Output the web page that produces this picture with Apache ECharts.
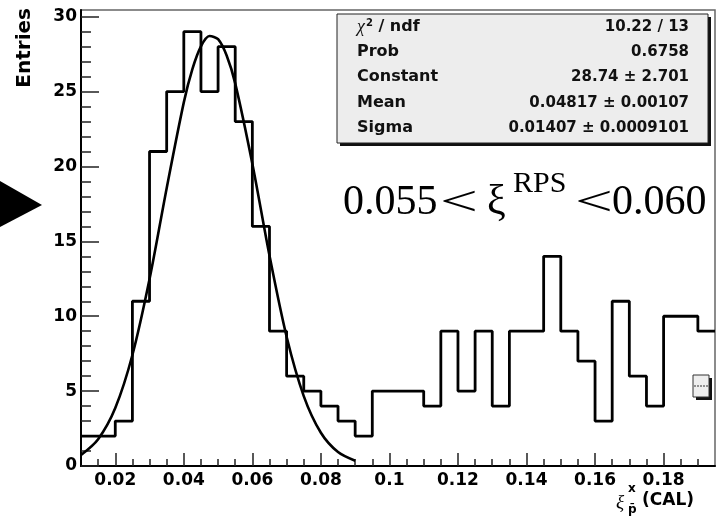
<!DOCTYPE html>
<html>
<head>
<meta charset="utf-8">
<script src="https://cdn.jsdelivr.net/npm/echarts@6/dist/echarts.min.js"></script>
<style>
  html, body { margin: 0; padding: 0; background: #fff; }
  #chart { width: 716px; height: 520px; }
</style>
</head>
<body>
<div id="chart"></div>
<script>
// histogram: 37 bins of width 0.005 starting at 0.01
const binStart = 0.01;
const binWidth = 0.005;
const entries = [2, 2, 3, 11, 21, 25, 29, 25, 28, 23, 16, 9, 6, 5, 4, 3, 2, 5, 5, 5, 4, 9, 5, 9, 4, 9, 9, 14, 9, 7, 3, 11, 6, 4, 10, 10, 9];

// gaussian fit curve
const fitX = [0.010, 0.015, 0.020, 0.025, 0.030, 0.035, 0.040, 0.0425, 0.045, 0.0475, 0.050, 0.0525, 0.055, 0.060, 0.065, 0.070, 0.075, 0.080, 0.085, 0.090];
const fitY = [0.73, 1.79, 3.87, 7.41, 12.48, 18.55, 24.28, 26.50, 28.02, 28.71, 28.50, 27.41, 25.55, 20.18, 14.05, 8.63, 4.67, 2.22, 0.93, 0.35];

const xMajorTicks = [0.02, 0.04, 0.06, 0.08, 0.1, 0.12, 0.14, 0.16, 0.18];
const xMinorTicks = [0.015, 0.025, 0.03, 0.035, 0.045, 0.05, 0.055, 0.065, 0.07, 0.075, 0.085, 0.09, 0.095,
  0.105, 0.11, 0.115, 0.125, 0.13, 0.135, 0.145, 0.15, 0.155, 0.165, 0.17, 0.175, 0.185, 0.19];
const yMajorTicks = [0, 5, 10, 15, 20, 25, 30];
const yMinorTicks = [1, 2, 3, 4, 6, 7, 8, 9, 11, 12, 13, 14, 16, 17, 18, 19, 21, 22, 23, 24, 26, 27, 28, 29];

const statLabels = ["{chi|χ}{sup|2}{t| / ndf}", "Prob", "Constant", "Mean", "Sigma"];
const statValues = ["10.22 / 13", "0.6758", "28.74 ± 2.701", "0.04817 ± 0.00107", "0.01407 ± 0.0009101"];

const X_MIN = 0.01, X_MAX = 0.195, Y_MAX = 30.45;

const histData = entries.map((v, i) => [Number((binStart + i * binWidth).toFixed(3)), v]);
histData.push([Number((binStart + entries.length * binWidth).toFixed(3)), entries[entries.length - 1]]);
const fitData = fitX.map((x, i) => [x, fitY[i]]);

const sans = "DejaVu Sans";
const serif = "Liberation Serif";

const graphics = [];
// arrow on the left
graphics.push({ type: "polygon", shape: { points: [[0, 181], [0, 227], [42, 205]] }, style: { fill: "#000" } });
// "Entries"
graphics.push({
  type: "text", x: 25, y: 8, rotation: Math.PI / 2,
  style: { text: "Entries", font: "bold 20px " + sans, fill: "#000", align: "right", verticalAlign: "middle" }
});
// stats box
graphics.push({ type: "rect", shape: { x: 340, y: 17, width: 371, height: 129 }, style: { fill: "#111" } });
graphics.push({ type: "rect", shape: { x: 337, y: 14, width: 371, height: 129 }, style: { fill: "#ededed", stroke: "#222", lineWidth: 1 } });
const rowY = [27, 52, 77, 103, 128];
statLabels.forEach((t, i) => {
  graphics.push({
    type: "text", x: 357, y: rowY[i],
    style: {
      text: t, font: "bold 16px " + sans, fill: "#111", align: "left", verticalAlign: "middle",
      rich: {
        chi: { font: "italic 18px " + serif, fill: "#111" },
        sup: { font: "bold 10px " + sans, fill: "#111", verticalAlign: "top", padding: [0, 0, 8, 1] },
        t: { font: "bold 16px " + sans, fill: "#111" }
      }
    }
  });
  graphics.push({
    type: "text", x: 689, y: rowY[i],
    style: { text: statValues[i], font: "bold 15px " + sans, fill: "#111", align: "right", verticalAlign: "middle" }
  });
});
// big annotation
const big = "42px " + serif;
[["0.055", 343, 203, big, 1], ["<", 440, 204, big, 1.6], ["ξ", 487, 203, big, 1], ["RPS", 513, 184, "30px " + serif, 1],
 ["<", 575, 204, big, 1.6], ["0.060", 612, 203, big, 1]].forEach(p => {
  graphics.push({
    type: "text", x: p[1], y: p[2], scaleX: p[4],
    style: { text: p[0], font: p[3], fill: "#000", align: "left", verticalAlign: "middle" }
  });
});
// x axis title
graphics.push({ type: "text", x: 616, y: 503, style: { text: "ξ", font: "italic 19px " + serif, fill: "#000", verticalAlign: "middle" } });
graphics.push({ type: "text", x: 628, y: 489, style: { text: "x", font: "bold 12px " + sans, fill: "#000", verticalAlign: "middle" } });
graphics.push({ type: "text", x: 628, y: 510, style: { text: "p̄", font: "bold 12px " + sans, fill: "#000", verticalAlign: "middle" } });
graphics.push({ type: "text", x: 642, y: 501, style: { text: "(CAL)", font: "bold 17px " + sans, fill: "#000", verticalAlign: "middle" } });
// small box on the right edge
graphics.push({ type: "rect", shape: { x: 696, y: 378, width: 16, height: 22 }, style: { fill: "#111" } });
graphics.push({ type: "rect", shape: { x: 693, y: 375, width: 16, height: 22 }, style: { fill: "#eee", stroke: "#333", lineWidth: 1 } });
graphics.push({ type: "line", shape: { x1: 694, y1: 386, x2: 708, y2: 386 }, style: { stroke: "#333", lineWidth: 1, lineDash: [2, 1] } });

const axisCommon = {
  type: "value", splitLine: { show: false }, scale: false
};

const option = {
  animation: false,
  backgroundColor: "#fff",
  grid: { left: 81, right: 1, top: 10, bottom: 54, show: true, borderColor: "#666", borderWidth: 1.5, backgroundColor: "transparent" },
  xAxis: [
    Object.assign({}, axisCommon, {
      min: X_MIN, max: X_MAX, position: "bottom",
      axisLine: { show: true, lineStyle: { color: "#000", width: 2 } },
      axisTick: { show: true, inside: true, length: 13, customValues: xMajorTicks, lineStyle: { color: "#222", width: 1.5 } },
      axisLabel: {
        show: true, customValues: xMajorTicks, margin: 6,
        formatter: v => String(Number(v.toFixed(3))),
        color: "#000", fontFamily: sans, fontWeight: "bold", fontSize: 17
      }
    }),
    Object.assign({}, axisCommon, {
      min: X_MIN, max: X_MAX, position: "bottom",
      axisLine: { show: false },
      axisTick: { show: true, inside: true, length: 7, customValues: xMinorTicks, lineStyle: { color: "#222", width: 1.5 } },
      axisLabel: { show: false }
    })
  ],
  yAxis: [
    Object.assign({}, axisCommon, {
      min: 0, max: Y_MAX, position: "left",
      axisLine: { show: true, lineStyle: { color: "#000", width: 2 } },
      axisTick: { show: true, inside: true, length: 18, customValues: yMajorTicks, lineStyle: { color: "#222", width: 1.5 } },
      axisLabel: {
        show: true, customValues: yMajorTicks, margin: 4,
        color: "#000", fontFamily: sans, fontWeight: "bold", fontSize: 17
      }
    }),
    Object.assign({}, axisCommon, {
      min: 0, max: Y_MAX, position: "left", offset: 0,
      axisLine: { show: false },
      axisTick: { show: true, inside: true, length: 10, customValues: yMinorTicks, lineStyle: { color: "#222", width: 1.5 } },
      axisLabel: { show: false }
    })
  ],
  series: [
    {
      name: "hist", type: "line", step: "end", data: histData,
      showSymbol: false, symbol: "none",
      lineStyle: { color: "#000", width: 2.8 }
    },
    {
      name: "fit", type: "line", smooth: 0.3, data: fitData,
      showSymbol: false, symbol: "none",
      lineStyle: { color: "#000", width: 2.6 }
    }
  ],
  graphic: graphics
};

const chart = echarts.init(document.getElementById("chart"), null, { renderer: "canvas" });
chart.setOption(option);
</script>
</body>
</html>
